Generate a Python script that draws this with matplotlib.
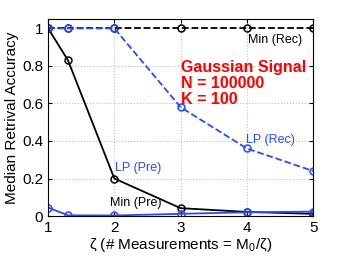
import matplotlib
matplotlib.use("Agg")
import matplotlib.pyplot as plt

plt.rcParams['font.family'] = ['Liberation Sans', 'DejaVu Sans']
plt.rcParams['mathtext.fontset'] = 'custom'
plt.rcParams['mathtext.rm'] = 'Liberation Sans'

zeta = [1, 1.3, 2, 3, 4, 5]
min_rec = [1, 1, 1, 1, 1, 1]
min_pre = [1, 0.83, 0.2, 0.042, 0.022, 0.012]
lp_rec = [1, 1, 1, 0.58, 0.36, 0.24]
lp_pre = [0.045, 0.004, 0.003, 0.012, 0.02, 0.024]

blue = "#2b4bf2"

fig = plt.figure(figsize=(3.46, 2.6), dpi=100)
ax = fig.add_axes([0.139, 0.169, 0.766, 0.758])

ax.plot(zeta, min_rec, "k--", marker="o", mfc="none", ms=5, lw=1.3, mew=1.1)
ax.plot(zeta, min_pre, "k-", marker="o", mfc="none", ms=5, lw=1.3, mew=1.1)
ax.plot(zeta, lp_rec, "--", color=blue, marker="o", mfc="none", ms=5, lw=1.3, mew=1.1)
ax.plot(zeta, lp_pre, "-", color=blue, marker="o", mfc="none", ms=5, lw=1.3, mew=1.1)

ax.text(4.02, 0.94, "Min (Rec)", fontsize=9, va="center")
ax.text(1.94, 0.07, "Min (Pre)", fontsize=9, va="center")
ax.text(3.99, 0.405, "LP (Rec)", fontsize=9, va="center", color=blue)
ax.text(2.01, 0.256, "LP (Pre)", fontsize=9, va="center", color=blue)
ax.text(3.0, 0.705, "Gaussian Signal\nN = 100000\nK = 100", fontsize=11.5,
        fontweight="bold", color="red", va="center", linespacing=1.1)

ax.set_xlim(1, 5)
ax.set_ylim(0, 1.05)
ax.set_xticks([1, 2, 3, 4, 5])
ax.set_yticks([0, 0.2, 0.4, 0.6, 0.8, 1])
ax.set_yticklabels(["0", "0.2", "0.4", "0.6", "0.8", "1"])
ax.tick_params(direction="in", top=True, right=True, labelsize=11, length=3)
ax.grid(True, linestyle=":", color="#c0c0c0", lw=0.8)
ax.set_xlabel("ζ (# Measurements = M$_0$/ζ)", fontsize=11, labelpad=1)
ax.set_ylabel("Median Retrival Accuracy", fontsize=11, labelpad=2)

fig.savefig("out.png", dpi=100)
